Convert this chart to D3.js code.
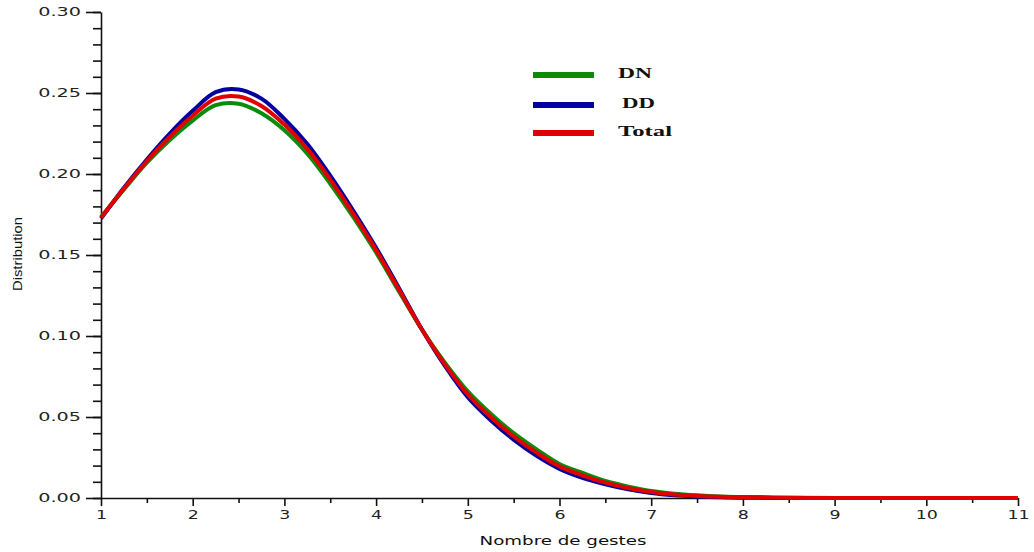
<!DOCTYPE html>
<html>
<head>
<meta charset="utf-8">
<script src="https://cdn.jsdelivr.net/npm/d3@7"></script>
<style>
  body { margin: 0; background: #fff; }
  svg { display: block; }
</style>
</head>
<body>
<script>
const svgWidth = 1034,
    svgHeight = 552;

// x values (nombre de gestes) and the three distributions
var xValues = [1, 1.25, 1.5, 1.75, 2, 2.25, 2.5, 2.75, 3, 3.25, 3.5, 3.75, 4, 4.25, 4.5, 4.75,
    5, 5.25, 5.5, 5.75, 6, 6.25, 6.5, 6.75, 7, 7.25, 7.5, 7.75, 8, 8.5, 9, 9.5, 10, 10.5, 11];

var dnValues = [0.1735, 0.1905, 0.207, 0.221, 0.233, 0.2425, 0.2434, 0.2375, 0.227, 0.2125, 0.194, 0.1735, 0.1515, 0.1275, 0.104, 0.0835,
    0.0658, 0.052, 0.040, 0.030, 0.021, 0.0155, 0.0105, 0.0070, 0.0043, 0.0027, 0.0017, 0.0010, 0.0006, 0.0002, 0, 0, 0, 0, 0];

var ddValues = [0.1725, 0.1915, 0.209, 0.225, 0.239, 0.2505, 0.2522, 0.2465, 0.234, 0.2185, 0.199, 0.1775, 0.1545, 0.1295, 0.104, 0.0815,
    0.0622, 0.048, 0.036, 0.026, 0.018, 0.0125, 0.0085, 0.0054, 0.0031, 0.0017, 0.0009, 0.0004, 0.0002, 0, 0, 0, 0, 0, 0];

var totalValues = [0.173, 0.191, 0.208, 0.223, 0.236, 0.2465, 0.2478, 0.242, 0.2305, 0.2155, 0.1965, 0.1755, 0.153, 0.1285, 0.104, 0.0825,
    0.064, 0.050, 0.038, 0.028, 0.0195, 0.014, 0.0095, 0.0062, 0.0037, 0.0022, 0.0013, 0.0007, 0.0004, 0.0001, 0, 0, 0, 0, 0];

var seriesNames = ["DN", "DD", "Total"];
var seriesColors = ["#0a8c0a", "#0000a0", "#e00000"];
var yTicks = [0, 0.05, 0.10, 0.15, 0.20, 0.25, 0.30];
var xTicks = [1, 2, 3, 4, 5, 6, 7, 8, 9, 10, 11];

var x = d3.scaleLinear().domain([1, 11]).range([101, 1018]);
var y = d3.scaleLinear().domain([0, 0.30]).range([498, 12]);

var svg = d3.select("body").append("svg")
    .attr("width", svgWidth)
    .attr("height", svgHeight);

// stretch tick text horizontally, the original font is very wide
function stretch(sel, k) {
    sel.each(function () {
        var w = this.getComputedTextLength();
        d3.select(this).attr("textLength", w * k).attr("lengthAdjust", "spacingAndGlyphs");
    });
}

// y axis: minor ticks every 0.01
svg.append("g")
    .attr("transform", "translate(101,0)")
    .call(d3.axisLeft(y).tickValues(d3.range(0, 0.301, 0.01)).tickSize(8).tickFormat(""))
    .call(g => g.select(".domain").remove());

var yAxis = svg.append("g")
    .attr("transform", "translate(101,0)")
    .call(d3.axisLeft(y).tickValues(yTicks).tickSize(15).tickPadding(5).tickFormat(d3.format(".2f")).tickSizeOuter(0));

// x axis: minor ticks at half units
svg.append("g")
    .attr("transform", "translate(0,498)")
    .call(d3.axisBottom(x).tickValues(d3.range(1.5, 11, 1)).tickSize(5).tickFormat(""))
    .call(g => g.select(".domain").remove());

var xAxis = svg.append("g")
    .attr("transform", "translate(0,498)")
    .call(d3.axisBottom(x).tickValues(xTicks).tickSize(8).tickPadding(4).tickSizeOuter(0));

svg.selectAll(".domain, .tick line").attr("stroke", "#111").attr("stroke-width", 1.6);
svg.selectAll(".tick text")
    .attr("font-family", "DejaVu Sans")
    .attr("font-size", 12)
    .attr("fill", "#222");
yAxis.selectAll(".tick text").call(stretch, 1.6);
xAxis.selectAll(".tick text").call(stretch, 1.45);

// curves
var series = [dnValues, ddValues, totalValues];
var line = d3.line()
    .x(function (d, i) { return x(xValues[i]); })
    .y(function (d) { return y(Math.max(0, d)); })
    .curve(d3.curveCatmullRom.alpha(0.5));

svg.append("g")
    .selectAll("path")
    .data(series).enter()
    .append("path")
    .attr("d", line)
    .attr("fill", "none")
    .attr("stroke", function (d, i) { return seriesColors[i]; })
    .attr("stroke-width", 4);

// axis titles
svg.append("text")
    .attr("x", 563)
    .attr("y", 545)
    .attr("text-anchor", "middle")
    .attr("font-family", "DejaVu Sans")
    .attr("font-size", 12)
    .attr("fill", "#111")
    .attr("textLength", 167)
    .attr("lengthAdjust", "spacingAndGlyphs")
    .text("Nombre de gestes");

svg.append("text")
    .attr("transform", "translate(22,254) rotate(-90)")
    .attr("text-anchor", "middle")
    .attr("font-family", "Liberation Sans")
    .attr("font-size", 12)
    .attr("fill", "#111")
    .attr("textLength", 74)
    .attr("lengthAdjust", "spacingAndGlyphs")
    .text("Distribution");

// legend
var legendY = [75, 105, 133],
    legendTextX = [618, 622, 618],
    legendTextW = [34, 33, 54];

var legend = svg.append("g");
legend.selectAll("line")
    .data(seriesNames).enter()
    .append("line")
    .attr("x1", 533).attr("x2", 594)
    .attr("y1", function (d, i) { return legendY[i]; })
    .attr("y2", function (d, i) { return legendY[i]; })
    .attr("stroke", function (d, i) { return seriesColors[i]; })
    .attr("stroke-width", 6);

legend.selectAll("text")
    .data(seriesNames).enter()
    .append("text")
    .attr("x", function (d, i) { return legendTextX[i]; })
    .attr("y", function (d, i) { return legendY[i] + 3; })
    .attr("font-family", "Liberation Serif")
    .attr("font-weight", "bold")
    .attr("font-size", 15)
    .attr("fill", "#111")
    .attr("textLength", function (d, i) { return legendTextW[i]; })
    .attr("lengthAdjust", "spacingAndGlyphs")
    .text(function (d) { return d; });
</script>
</body>
</html>
